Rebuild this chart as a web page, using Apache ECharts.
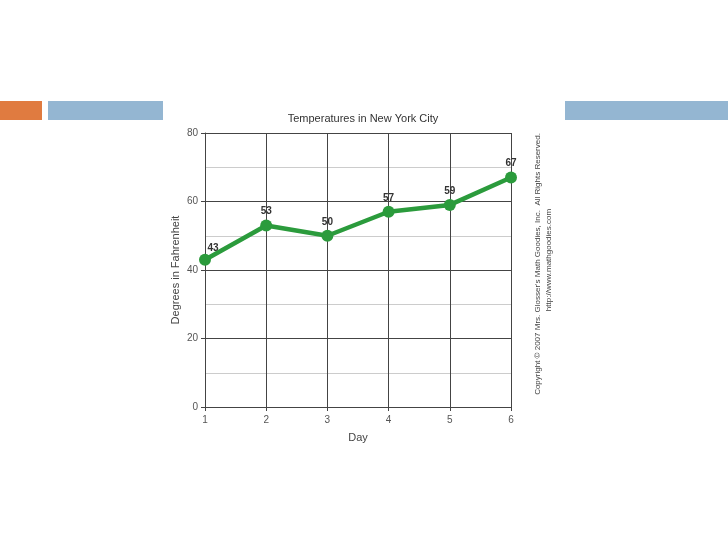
<!DOCTYPE html>
<html><head><meta charset="utf-8">
<script src="https://cdn.jsdelivr.net/npm/echarts@6/dist/echarts.min.js"></script>
<style>html,body{margin:0;padding:0;background:#fff}#c{width:728px;height:546px}</style>
</head><body><div id="c"></div>
<script>
const days = [1, 2, 3, 4, 5, 6];
const temps = [43, 53, 50, 57, 59, 67];
const yTicks = [0, 20, 40, 60, 80];

const chart = echarts.init(document.getElementById('c'));
const F = 'Liberation Sans, Arial, sans-serif';
chart.setOption({
  animation: false,
  backgroundColor: '#fff',
  title: {
    text: 'Temperatures in New York City',
    left: 358, top: 108, textAlign: 'center',
    textStyle: {fontFamily: F, fontSize: 11, fontWeight: 'normal', color: '#333'}
  },
  grid: {left: 205, right: 217, top: 133, bottom: 139},
  xAxis: {
    type: 'value', min: days[0], max: days[days.length - 1], interval: 1,
    name: 'Day', nameLocation: 'middle', nameGap: 25,
    nameTextStyle: {fontFamily: F, fontSize: 11, color: '#444'},
    axisLine: {lineStyle: {color: '#444', width: 1}},
    axisTick: {show: true, length: 4, lineStyle: {color: '#444'}},
    axisLabel: {fontFamily: F, fontSize: 10, color: '#555', margin: 8},
    splitLine: {show: true, lineStyle: {color: '#444', width: 1}}
  },
  yAxis: {
    type: 'value', min: yTicks[0], max: yTicks[yTicks.length - 1], interval: 20,
    name: 'Degrees in Fahrenheit', nameLocation: 'middle', nameGap: 24, nameRotate: 90,
    nameTextStyle: {fontFamily: F, fontSize: 11, color: '#444'},
    axisLine: {show: true, lineStyle: {color: '#444', width: 1}},
    axisTick: {show: true, length: 4, lineStyle: {color: '#444'}},
    axisLabel: {fontFamily: F, fontSize: 10, color: '#555', margin: 7},
    splitLine: {show: true, lineStyle: {color: '#444', width: 1}},
    minorTick: {show: false, splitNumber: 2},
    minorSplitLine: {show: true, lineStyle: {color: '#ccc', width: 1}}
  },
  series: [{
    type: 'line',
    data: days.map((d, i) => [d, temps[i]]),
    lineStyle: {color: '#2b9b3c', width: 4.5},
    itemStyle: {color: '#2b9b3c'},
    symbol: 'circle', symbolSize: 12,
    label: {
      show: true, position: 'top', distance: 3,
      fontFamily: F, fontSize: 10, fontWeight: 'bold', color: '#333',
      formatter: p => p.value[1]
    },
    labelLayout: p => p.dataIndex === 0 ? {dx: 8, dy: 3} : {}
  }],
  graphic: [
    {type: 'rect', shape: {x: 0, y: 101, width: 42, height: 19}, style: {fill: '#e07b40'}},
    {type: 'rect', shape: {x: 48, y: 101, width: 115, height: 19}, style: {fill: '#94b6d2'}},
    {type: 'rect', shape: {x: 565, y: 101, width: 163, height: 19}, style: {fill: '#94b6d2'}},
    {type: 'text', x: 538, y: 264, rotation: Math.PI / 2,
      style: {text: "Copyright \u00a9 2007 Mrs. Glosser's Math Goodies, Inc.  All Rights Reserved.",
        fontFamily: F, fontSize: 8, fill: '#444', align: 'center', verticalAlign: 'middle'}},
    {type: 'text', x: 549, y: 260, rotation: Math.PI / 2,
      style: {text: 'http://www.mathgoodies.com',
        fontFamily: F, fontSize: 8, fill: '#444', align: 'center', verticalAlign: 'middle'}}
  ]
});
</script></body></html>
